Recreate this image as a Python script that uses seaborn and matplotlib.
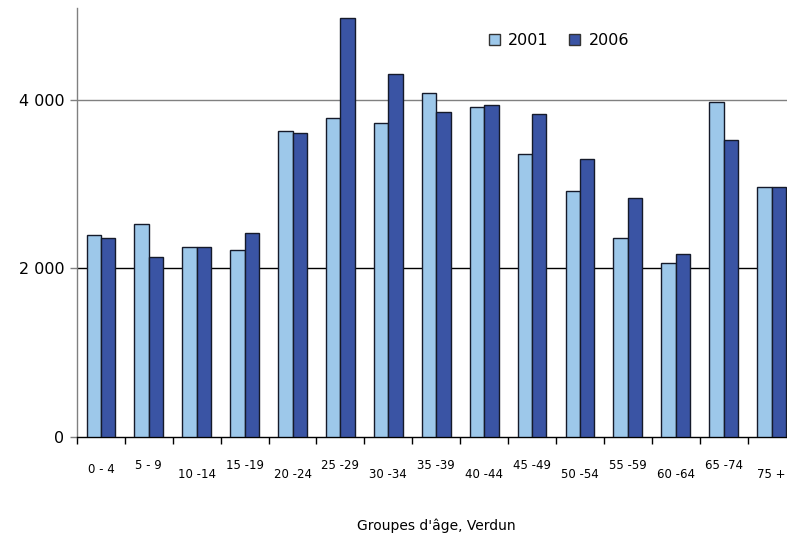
import pandas as pd
import matplotlib
matplotlib.use("Agg")
import matplotlib.pyplot as plt
import seaborn as sns

# ---------------------------------------------------
# DATA
# ---------------------------------------------------
groupes = ["0 - 4", "5 - 9", "10 -14", "15 -19", "20 -24", "25 -29", "30 -34",
           "35 -39", "40 -44", "45 -49", "50 -54", "55 -59", "60 -64", "65 -74", "75 +"]
pop_2001 = [2393, 2527, 2251, 2222, 3634, 3781, 3722, 4078, 3915, 3361,
            2918, 2361, 2061, 3971, 2970]
pop_2006 = [2361, 2139, 2251, 2417, 3610, 4967, 4303, 3859, 3942, 3832,
            3302, 2835, 2167, 3524, 2970]
annees = ["2001", "2006"]
y_ticks = [0, 2000, 4000]
y_labels = ["0", "2 000", "4 000"]

df = pd.DataFrame({
    "groupe": groupes * 2,
    "pop": pop_2001 + pop_2006,
    "annee": [annees[0]] * len(groupes) + [annees[1]] * len(groupes),
})

# ---------------------------------------------------
# PLOT
# ---------------------------------------------------
sns.set_style("white")
plt.rcParams["font.family"] = ["DejaVu Sans"]
plt.rcParams["text.color"] = "black"
plt.rcParams["xtick.color"] = "black"
plt.rcParams["ytick.color"] = "black"
plt.rcParams["axes.labelcolor"] = "black"

fig = plt.figure(figsize=(7.87, 5.37), dpi=100)
ax = fig.add_axes([0.0978, 0.1862, 0.913, 0.7989])

sns.barplot(data=df, x="groupe", y="pop", hue="annee", order=groupes,
            palette=["#9DC8EA", "#3A54A4"], saturation=1, width=0.6,
            edgecolor="#151a2a", linewidth=1.0, ax=ax, zorder=3)

ax.set_xlim(-0.5, len(groupes) - 0.5)
ax.set_ylim(0, 5090)

# y axis
ax.set_yticks(y_ticks)
ax.set_yticklabels(y_labels, fontsize=11.5)
ax.tick_params(axis="y", length=5, width=1, color="#808080", labelcolor="black",
               direction="out", pad=4, left=True)
ax.grid(axis="y", zorder=0)
gl = ax.get_ygridlines()
gl[0].set_visible(False)
gl[1].set_color("#000000")
gl[2].set_color("#808080")
for g in gl:
    g.set_linewidth(1.0)

# x axis: labels at centres (staggered), ticks at boundaries
ax.set_xticks(range(len(groupes)))
ax.set_xticklabels(groupes, fontsize=8.5)
ax.set_xticks([i - 0.5 for i in range(len(groupes) + 1)], minor=True)
ax.tick_params(axis="x", which="major", length=0, labelcolor="black")
ax.tick_params(axis="x", which="minor", length=5, width=1, color="#000000",
               direction="out", bottom=True)
for i, tick in enumerate(ax.xaxis.get_major_ticks()):
    if i == 0:
        tick.set_pad(18.5)
    elif i % 2 == 1:
        tick.set_pad(15.5)
    else:
        tick.set_pad(22.5)

for side in ["top", "right"]:
    ax.spines[side].set_visible(False)
ax.spines["left"].set_color("#808080")
ax.spines["bottom"].set_color("#000000")
ax.spines["left"].set_linewidth(1.0)
ax.spines["bottom"].set_linewidth(1.0)

ax.set_ylabel("")
ax.set_xlabel("Groupes d'âge, Verdun", fontsize=10, labelpad=27, color="black")

leg = ax.legend(loc="upper left", bbox_to_anchor=(0.553, 0.975), ncol=2,
                frameon=False, fontsize=11.5, handlelength=0.7,
                handleheight=0.7, handletextpad=0.5, columnspacing=1.3)
for h in leg.legend_handles:
    h.set_edgecolor("#333333")
    h.set_linewidth(1.0)
for t in leg.get_texts():
    t.set_color("black")

fig.savefig("out.png", dpi=100)
